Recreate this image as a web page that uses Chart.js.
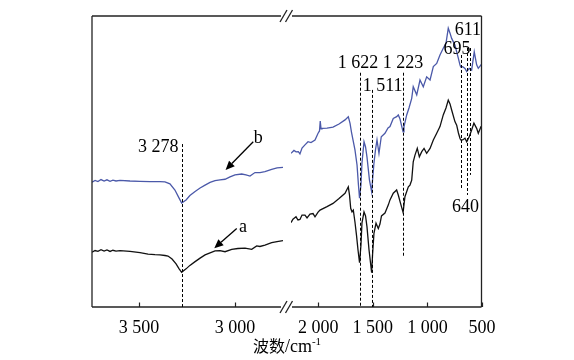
<!DOCTYPE html>
<html>
<head>
<meta charset="utf-8">
<script src="https://cdn.jsdelivr.net/npm/chart.js@4.4.1/dist/chart.umd.min.js"></script>
<style>
  body { margin: 0; background: #fff; }
  #wrap { position: relative; width: 574px; height: 360px; }
  #wrap canvas { position: absolute; left: 0; top: 0; }
</style>
</head>
<body>
<div id="wrap">
  <canvas id="high" width="574" height="360"></canvas>
  <canvas id="low" width="574" height="360"></canvas>
</div>
<script>
// --- high wavenumber panel (cm-1) ---
const highWaveB = [3745, 3729, 3714, 3698, 3682, 3667, 3651, 3636, 3620, 3599, 3547, 3495, 3443, 3391, 3365, 3339, 3313, 3292, 3278, 3255, 3235, 3208, 3182, 3156, 3130, 3104, 3078, 3052, 3026, 3000, 2965, 2943, 2922, 2896, 2870, 2844, 2809, 2781, 2750];
const highB = [42.9, 43.5, 43.1, 43.8, 43.3, 43.7, 43.2, 43.6, 43.3, 43.5, 43.3, 43.2, 43.1, 43.1, 43.0, 42.3, 40.2, 37.5, 35.7, 36.8, 38.3, 39.7, 40.9, 41.9, 42.8, 43.4, 43.7, 43.9, 44.7, 45.4, 45.7, 45.4, 45.0, 46.2, 46.2, 46.5, 47.3, 47.8, 48.0];
const highWaveA = [3745, 3729, 3714, 3698, 3682, 3667, 3651, 3636, 3620, 3599, 3547, 3495, 3453, 3417, 3391, 3365, 3349, 3328, 3307, 3292, 3278, 3255, 3235, 3208, 3182, 3156, 3130, 3104, 3078, 3052, 3017, 2985, 2948, 2913, 2887, 2870, 2844, 2809, 2781, 2750];
const highA = [18.8, 19.4, 19.1, 19.7, 19.2, 19.6, 19.1, 19.5, 19.2, 19.4, 19.1, 18.7, 18.2, 18.0, 17.9, 17.7, 17.5, 16.5, 14.8, 13.2, 11.9, 13.1, 14.3, 15.6, 16.8, 17.9, 18.6, 19.3, 19.4, 19.0, 19.8, 20.1, 20.2, 19.8, 21.0, 20.8, 21.3, 22.1, 22.5, 22.8];

// --- low wavenumber panel (cm-1) ---
const lowWaveB = [2250, 2223, 2204, 2183, 2168, 2149, 2122, 2094, 2067, 2030, 2002, 1989, 1982, 1975, 1966, 1920, 1865, 1810, 1755, 1725, 1709, 1696, 1682, 1664, 1645, 1632, 1622, 1609, 1600, 1581, 1567, 1554, 1531, 1511, 1503, 1490, 1476, 1462, 1444, 1423, 1389, 1361, 1343, 1313, 1282, 1267, 1251, 1238, 1223, 1215, 1190, 1169, 1144, 1130, 1098, 1068, 1038, 1007, 976, 946, 915, 885, 855, 830, 809, 793, 778, 748, 717, 702, 695, 677, 656, 640, 617, 595, 571, 549, 534, 509, 500];
const lowB = [52.8, 53.8, 53.3, 53.4, 52.6, 54.6, 55.7, 56.8, 56.5, 57.4, 59.7, 60.5, 63.9, 61.2, 61.4, 61.5, 61.8, 62.9, 64.3, 65.4, 63.1, 60.1, 57.4, 54.0, 48.8, 41.9, 37.4, 41.9, 49.4, 56.8, 55.0, 51.6, 43.6, 39.6, 43.6, 49.4, 54.0, 57.4, 52.8, 58.5, 59.7, 61.5, 62.0, 64.8, 65.4, 66.0, 64.6, 62.5, 60.2, 61.9, 66.0, 68.4, 71.7, 75.7, 72.9, 78.0, 75.7, 79.1, 78.0, 82.6, 83.7, 86.6, 88.9, 90.6, 95.8, 94.1, 92.3, 90.0, 85.5, 83.2, 82.5, 82.6, 82.0, 80.9, 82.0, 81.4, 87.7, 83.2, 82.0, 83.2, 83.0];
const lowWaveA = [2250, 2232, 2204, 2186, 2168, 2149, 2122, 2103, 2076, 2048, 2030, 2002, 1984, 1920, 1865, 1810, 1755, 1725, 1714, 1703, 1691, 1679, 1664, 1650, 1636, 1622, 1609, 1600, 1581, 1567, 1554, 1535, 1511, 1503, 1490, 1471, 1450, 1435, 1421, 1389, 1358, 1343, 1313, 1282, 1267, 1247, 1223, 1206, 1175, 1160, 1144, 1130, 1114, 1093, 1074, 1052, 1031, 1007, 976, 946, 915, 885, 855, 830, 809, 793, 778, 748, 732, 716, 702, 695, 677, 656, 640, 617, 595, 574, 549, 534, 509, 500];
const lowA = [29.0, 30.2, 31.0, 29.9, 30.1, 31.6, 31.6, 30.6, 31.9, 32.1, 31.0, 32.6, 33.3, 34.5, 35.6, 37.3, 39.1, 41.3, 38.5, 33.9, 32.7, 33.3, 29.2, 24.7, 19.6, 15.2, 21.3, 28.8, 32.7, 31.3, 27.6, 19.6, 11.8, 17.9, 25.3, 28.8, 27.0, 28.5, 31.3, 32.3, 35.1, 36.8, 39.1, 40.2, 38.5, 35.7, 32.5, 37.9, 41.3, 41.9, 43.6, 49.9, 52.2, 54.5, 51.6, 53.4, 54.5, 52.8, 54.5, 57.4, 59.7, 62.0, 66.0, 68.4, 71.1, 69.8, 67.7, 63.7, 62.5, 59.8, 58.0, 57.4, 57.4, 58.0, 56.8, 58.5, 60.8, 63.2, 61.4, 59.7, 62.0, 62.0];

const highTicks = [3500, 3000];
const lowTicks = [2000, 1500, 1000, 500];

// marked bands
const highPeaks = [3278];
const highPeakLabels = ['3 278'];
const lowPeaks = [1622, 1511, 1223, 695, 640, 611];
const lowPeakLabels = ['1 622', '1 511', '1 223', '695', '640', '611'];

const SERIF = '"Liberation Serif", "Times New Roman", serif';
const BLUE = '#4b59a9';
const INK = '#222';

// label/line placement per band: text offset (px) from the line, label baseline and line span in y units
const highPeakStyle = [
  { dx: -4, align: 'right', base: 53.4, from: 56.0, to: 0 }
];
const lowPeakStyle = [
  { dx: -2.5, align: 'center', base: 82.0, from: 80.5, to: 0 },
  { dx: -9.8, align: 'left', base: 74.3, from: 74.6, to: 0 },
  { dx: -0.5, align: 'center', base: 82.0, from: 80.5, to: 17.2 },
  { dx: -4.5, align: 'center', base: 86.8, from: 86.6, to: 40.2 },
  { dx: -2, align: 'center', base: 32.7, from: 89.0, to: 38.5 },
  { dx: -2.7, align: 'center', base: 93.5, from: 89.0, to: 45.4 }
];
// arrows pointing at the curves: [fromWave, fromY, toWave, toY], label at [wave, y]
const highArrows = [
  { text: 'b', from: [2905, 56.8], to: [3049, 47.1], at: [2902, 56.4] },
  { text: 'a', from: [2991, 27.0], to: [3108, 20.2], at: [2979, 25.9] }
];

function fmt(v) {
  const s = String(v);
  return s.length > 3 ? s.slice(0, s.length - 3) + ' ' + s.slice(-3) : s;
}

function pts(xs, ys) {
  return xs.map((w, i) => ({ x: w, y: ys[i] }));
}

function line(ctx, x1, y1, x2, y2) {
  ctx.beginPath();
  ctx.moveTo(x1, y1);
  ctx.lineTo(x2, y2);
  ctx.stroke();
}

function drawPeaks(ctx, x, y, peaks, labels, style) {
  ctx.font = '18px ' + SERIF;
  ctx.fillStyle = '#000';
  ctx.textBaseline = 'alphabetic';
  peaks.forEach((p, i) => {
    const st = style[i];
    const px = Math.round(x.getPixelForValue(p)) + 0.5;
    ctx.save();
    ctx.strokeStyle = '#000';
    ctx.lineWidth = 1;
    ctx.setLineDash([3, 2]);
    line(ctx, px, y.getPixelForValue(st.from), px, y.getPixelForValue(st.to));
    ctx.restore();
    ctx.textAlign = st.align;
    ctx.fillText(labels[i], px + st.dx, y.getPixelForValue(st.base));
  });
}

function drawArrow(ctx, x, y, ar) {
  const x1 = x.getPixelForValue(ar.from[0]), y1 = y.getPixelForValue(ar.from[1]);
  const x2 = x.getPixelForValue(ar.to[0]), y2 = y.getPixelForValue(ar.to[1]);
  const ang = Math.atan2(y2 - y1, x2 - x1);
  const len = 9, half = 4;
  const bx = x2 - len * Math.cos(ang), by = y2 - len * Math.sin(ang);
  ctx.strokeStyle = '#000';
  ctx.fillStyle = '#000';
  ctx.lineWidth = 1.3;
  line(ctx, x1, y1, bx, by);
  ctx.beginPath();
  ctx.moveTo(x2, y2);
  ctx.lineTo(bx + half * Math.sin(ang), by - half * Math.cos(ang));
  ctx.lineTo(bx - half * Math.sin(ang), by + half * Math.cos(ang));
  ctx.closePath();
  ctx.fill();
  ctx.font = '18px ' + SERIF;
  ctx.textAlign = 'left';
  ctx.textBaseline = 'alphabetic';
  ctx.fillText(ar.text, x.getPixelForValue(ar.at[0]), y.getPixelForValue(ar.at[1]));
}

function drawTicks(ctx, a, x) {
  ctx.strokeStyle = INK;
  ctx.lineWidth = 1.2;
  x.ticks.forEach(t => {
    const px = Math.round(x.getPixelForValue(t.value)) + 0.5;
    line(ctx, px, a.bottom, px, a.bottom - 4.5);
  });
}

const decor = {
  id: 'decor',
  afterDatasetsDraw(chart, args, opts) {
    const { ctx, chartArea: a, scales: { x, y } } = chart;
    ctx.save();
    ctx.strokeStyle = INK;
    ctx.lineWidth = 1.3;
    ctx.lineCap = 'butt';
    if (opts.side === 'high') {
      line(ctx, a.left, a.top, a.left, a.bottom);
      line(ctx, a.left, a.top, a.right - 2, a.top);
      line(ctx, a.left, a.bottom, a.right - 2, a.bottom);
      // axis break marks
      [a.top, a.bottom].forEach(yy => {
        [a.right + 0.5, a.right + 6].forEach(cx => line(ctx, cx - 3.5, yy + 6, cx + 3.5, yy - 6));
      });
      drawTicks(ctx, a, x);
      drawPeaks(ctx, x, y, highPeaks, highPeakLabels, highPeakStyle);
      highArrows.forEach(ar => drawArrow(ctx, x, y, ar));
    } else {
      const r = a.right - 0.5;
      line(ctx, r, a.top, r, a.bottom);
      line(ctx, a.left + 1, a.top, r, a.top);
      line(ctx, a.left + 1, a.bottom, r, a.bottom);
      drawTicks(ctx, a, x);
      drawPeaks(ctx, x, y, lowPeaks, lowPeakLabels, lowPeakStyle);
      // axis title
      ctx.fillStyle = '#000';
      ctx.textBaseline = 'alphabetic';
      ctx.textAlign = 'left';
      const cjk = '16px "Noto Sans CJK SC", sans-serif';
      const lat = '18px ' + SERIF;
      const sup = '11px ' + SERIF;
      ctx.font = cjk; const w1 = ctx.measureText('波数').width;
      ctx.font = lat; const w2 = ctx.measureText('/cm').width;
      ctx.font = sup; const w3 = ctx.measureText('-1').width;
      let tx = 287 - (w1 + w2 + w3) / 2;
      const base = 352;
      ctx.font = cjk; ctx.fillText('波数', tx, base); tx += w1;
      ctx.font = lat; ctx.fillText('/cm', tx, base); tx += w2;
      ctx.font = sup; ctx.fillText('-1', tx, base - 7);
    }
    ctx.restore();
  }
};

function makeChart(id, cfg) {
  return new Chart(document.getElementById(id), {
    type: 'line',
    data: {
      datasets: [
        { label: 'a', data: pts(cfg.waveA, cfg.valA), borderColor: '#111', borderWidth: 1.3, pointRadius: 0, tension: 0 },
        { label: 'b', data: pts(cfg.waveB, cfg.valB), borderColor: BLUE, borderWidth: 1.3, pointRadius: 0, tension: 0 }
      ]
    },
    options: {
      responsive: false,
      animation: false,
      events: [],
      layout: { padding: { left: cfg.padL, right: cfg.padR, top: 16, bottom: 0 } },
      plugins: { legend: { display: false }, tooltip: { enabled: false }, decor: { side: cfg.side } },
      scales: {
        x: {
          type: 'linear', reverse: true, min: cfg.min, max: cfg.max,
          afterBuildTicks: s => { s.ticks = cfg.ticks.map(v => ({ value: v })); },
          afterFit: s => { s.height = 53; },
          grid: { display: false, drawTicks: false },
          border: { display: false },
          ticks: { font: { family: SERIF, size: 18 }, color: '#000', padding: 10, maxRotation: 0, autoSkip: false, callback: v => fmt(v) }
        },
        y: { display: false, min: 0, max: 100 }
      }
    },
    plugins: [decor]
  });
}

makeChart('high', { side: 'high', waveA: highWaveA, valA: highA, waveB: highWaveB, valB: highB, min: 2750, max: 3745, ticks: highTicks, padL: 92, padR: 291 });
makeChart('low', { side: 'low', waveA: lowWaveA, valA: lowA, waveB: lowWaveB, valB: lowB, min: 500, max: 2250, ticks: lowTicks, padL: 291, padR: 92 });
</script>
</body>
</html>
